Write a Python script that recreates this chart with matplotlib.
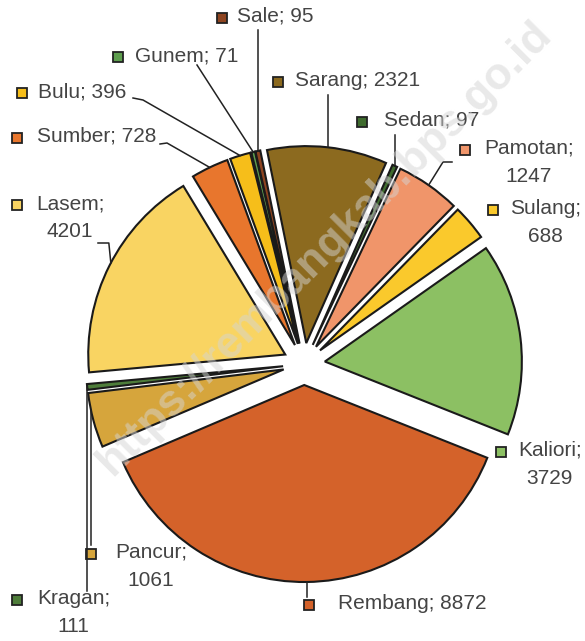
import numpy as np
import matplotlib
matplotlib.use("Agg")
import matplotlib.pyplot as plt

# data (clockwise, starting at Sarang near 12 o'clock)
names = ["Sarang", "Sedan", "Pamotan", "Sulang", "Kaliori", "Rembang", "Pancur",
         "Kragan", "Lasem", "Sumber", "Bulu", "Gunem", "Sale"]
values = [2321, 97, 1247, 688, 3729, 8872, 1061, 111, 4201, 728, 396, 71, 95]
colors = ["#8C6A1F", "#3F6B2E", "#F0956A", "#FAC92C", "#8CC063", "#D4622A", "#D6A53C",
          "#4E7D3A", "#F9D462", "#E8762D", "#F6BE1A", "#5E9E4E", "#8E4420"]

# label layout in pixels (marker x, text x, first line y) from top-left
label_pos = {
    "Sale": (222, 237, 18), "Gunem": (118, 135, 57), "Bulu": (22, 38, 93),
    "Sumber": (17, 37, 138), "Lasem": (17, 36, 205), "Sarang": (278, 295, 82),
    "Sedan": (362, 384, 122), "Pamotan": (465, 484, 150), "Sulang": (493, 510, 210),
    "Kaliori": (501, 518, 452), "Rembang": (309, 338, 605), "Pancur": (91, 115, 554),
    "Kragan": (17, 37, 600),
}
two_line = ["Lasem", "Pamotan", "Sulang", "Kaliori", "Pancur", "Kragan"]

W, H = 585, 641
fy = lambda y: H - y

fig = plt.figure(figsize=(W / 100, H / 100), dpi=100)
ax = fig.add_axes([0, 0, 1, 1])

R = 197
wedges, _ = ax.pie(values, colors=colors, startangle=101.5, counterclock=False,
                   radius=R, center=(304, fy(364)), explode=[21] * len(values),
                   wedgeprops=dict(edgecolor="#1a1a1a", linewidth=1.5))
ax.set_xlim(0, W)
ax.set_ylim(0, H)
ax.set_aspect("equal")
ax.axis("off")

plt.rcParams["font.family"] = ["Liberation Sans", "DejaVu Sans"]
tcol = "#444444"

for name, val, col in zip(names, values, colors):
    mx, tx, ty = label_pos[name]
    sep = "\n" if name in two_line else " "
    txt = f"{name};{sep}{val}"
    ax.plot(mx, fy(ty), marker="s", markersize=7, color=col,
            markeredgecolor="#222222", markeredgewidth=1.3)
    ax.text(tx, fy(ty) + 11, txt, ha="left", va="top", fontsize=15,
            color=tcol, multialignment="center", linespacing=1.6)


def arc_point(name, ang=None):
    w = wedges[names.index(name)]
    a = np.radians(ang if ang is not None else (w.theta1 + w.theta2) / 2)
    cx, cy = w.center
    return cx + w.r * np.cos(a), cy + w.r * np.sin(a)


lk = dict(color="#222222", linewidth=1.1)
# leader lines
x, y = arc_point("Sale")
ax.plot([x, x], [fy(30), y], **lk)
x, y = arc_point("Gunem")
ax.plot([197, x], [fy(65), y], **lk)
x, y = arc_point("Bulu")
ax.plot([133, 143, x], [fy(98), fy(100), y], **lk)
x, y = arc_point("Sumber")
ax.plot([160, 167, x], [fy(144), fy(143), y], **lk)
x, y = arc_point("Lasem", 152.3)
ax.plot([98, x - 2, x], [fy(243), fy(243), y], **lk)
x, y = arc_point("Sarang")
ax.plot([x, x], [fy(95), y], **lk)
x, y = arc_point("Sedan")
ax.plot([x, x], [fy(135), y], **lk)
x, y = arc_point("Pamotan")
ax.plot([452, 443, x], [fy(162), fy(162), y], **lk)
x, y = arc_point("Rembang")
ax.plot([x, x], [fy(597), y], **lk)
x, y = arc_point("Pancur", 192)
ax.plot([x, x], [fy(545), y], **lk)
x, y = arc_point("Kragan")
ax.plot([x, x], [fy(591), y], **lk)

# watermark
ax.text(325, fy(248), "https://rembangkab.bps.go.id", rotation=45, ha="center",
        va="center", fontsize=32, fontweight="bold", color="#d4d4d4", alpha=0.5,
        zorder=10)

fig.savefig("out.png", dpi=100)
